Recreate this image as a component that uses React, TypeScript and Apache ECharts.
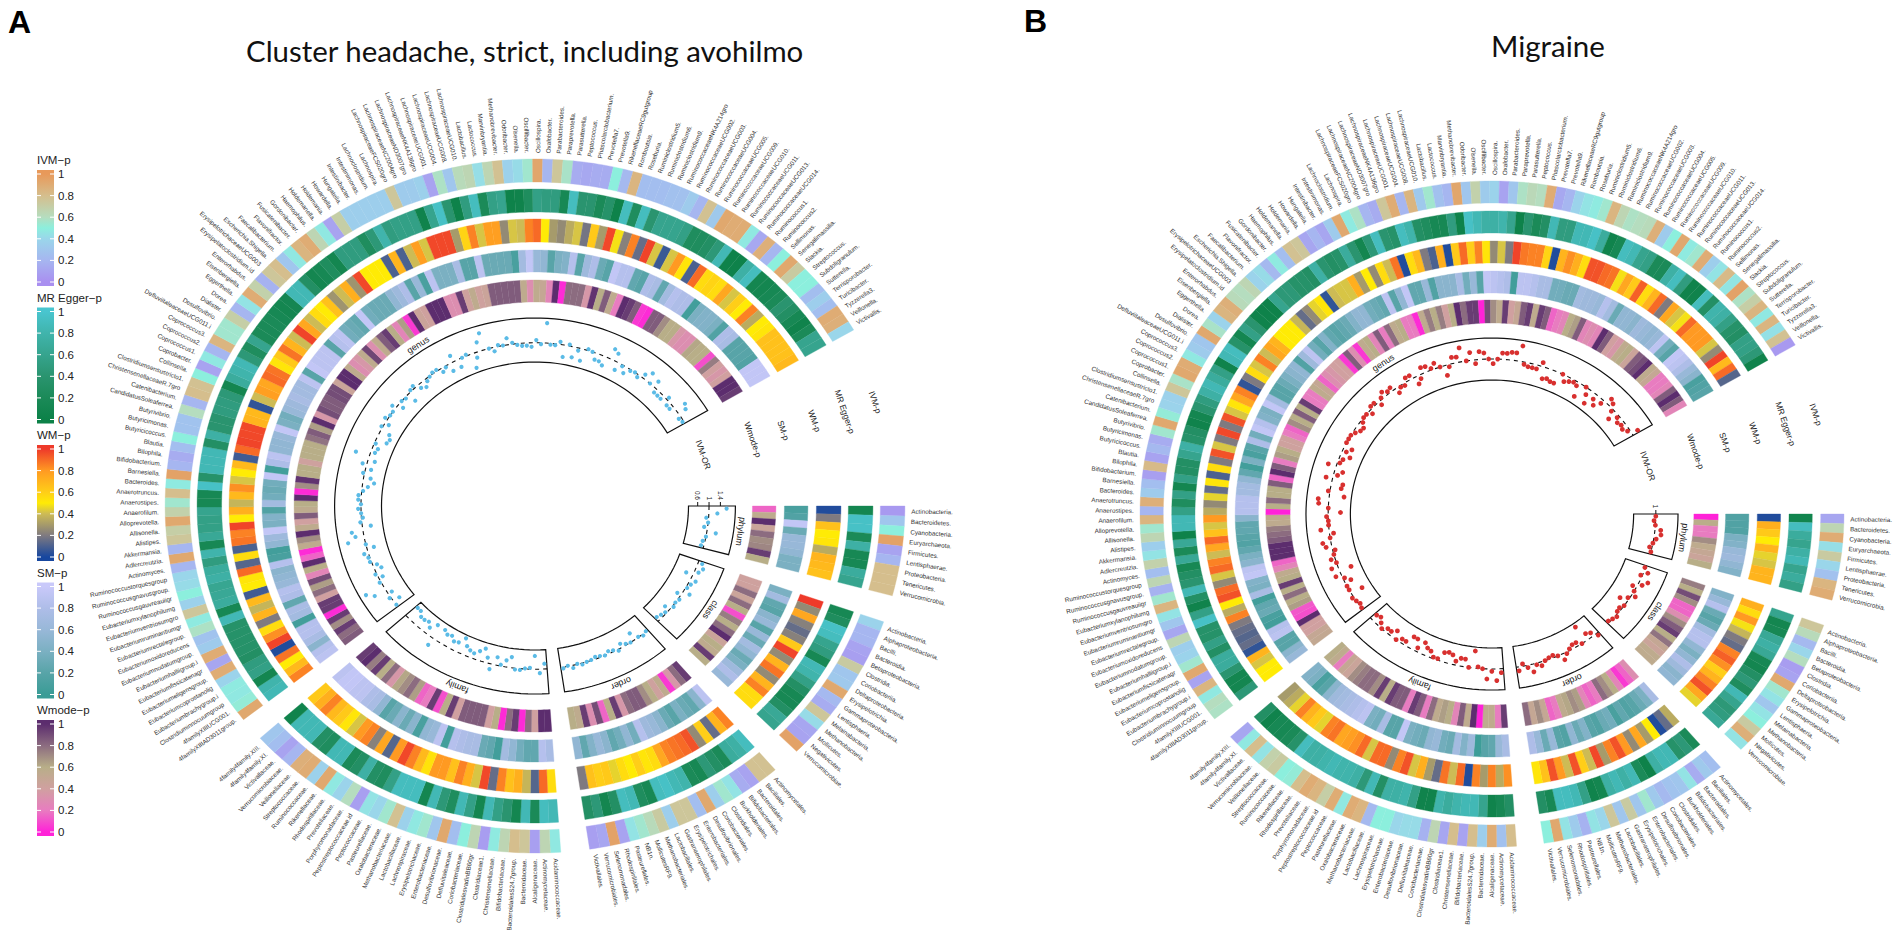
import React, { useEffect, useRef } from "react";
import * as echarts from "echarts";

// ---------- labels ----------
const phylumNames = ["Actinobacteria.","Bacteroidetes.","Cyanobacteria.","Euryarchaeota.","Firmicutes.","Lentisphaerae.","Proteobacteria.","Tenericutes.","Verrucomicrobia."];
const classNames = ["Actinobacteria.","Alphaproteobacteria.","Bacilli.","Bacteroidia.","Betaproteobacteria.","Clostridia.","Coriobacteriia.","Deltaproteobacteria.","Erysipelotrichia.","Gammaproteobacteria.","Lentisphaeria.","Melainabacteria.","Methanobacteria.","Mollicutes.","Negativicutes.","Verrucomicrobiae."];
const orderNames = ["Actinomycetales.","Bacillales.","Bacteroidales.","Bifidobacteriales.","Burkholderiales.","Clostridiales.","Coriobacteriales.","Desulfovibrionales.","Enterobacteriales.","Erysipelotrichales.","Gastranaerophilales.","Lactobacillales.","Methanobacteriales.","MollicutesRF9.","NB1n.","Pasteurellales.","Rhodospirillales.","Selenomonadales.","Verrucomicrobiales.","Victivallales."];
const familyNames = ["Acidaminococcaceae.","Actinomycetaceae.","Alcaligenaceae.","Bacteroidaceae.","BacteroidalesS24.7group.","Bifidobacteriaceae.","Christensenellaceae.","Clostridiaceae1.","ClostridialesvadinBB60gr","Coriobacteriaceae.","Defluviitaleaceae.","Desulfovibrionaceae.","Enterobacteriaceae.","Erysipelotrichaceae.","Lachnospiraceae.","Lactobacillaceae.","Methanobacteriaceae.","Oxalobacteraceae.","Pasteurellaceae.","Peptococcaceae.","Peptostreptococcaceae.id","Porphyromonadaceae.","Prevotellaceae.","Rhodospirillaceae.","Rikenellaceae.","Ruminococcaceae.","Streptococcaceae.","Veillonellaceae.","Verrucomicrobiaceae.","Victivallaceae.","4family4family.XI.","4family4family.XIII."];
const genusNames = ["4familyXIIIAD3011group.","4familyXIIIUCG001.","Clostridiuminnocuumgroup","Eubacteriumbrachygroup.i","Eubacteriumcoprostanolig","Eubacteriumeligensgroup.","Eubacteriumfissicatenagr","Eubacteriumhalliigroup.i","Eubacteriumnodatumgroup.","Eubacteriumoxidoreducens","Eubacteriumrectalegroup.","Eubacteriumruminantiumgr","Eubacteriumventriosumgro","Eubacteriumxylanophilumg","Ruminococcusgauvreauiigr","Ruminococcusgnavusgroup.","Ruminococcustorquesgroup","Actinomyces.","Adlercreutzia.","Akkermansia.","Alistipes.","Allisonella.","Alloprevotella.","Anaerofilum.","Anaerostipes.","Anaerotruncus.","Bacteroides.","Barnesiella.","Bifidobacterium.","Bilophila.","Blautia.","Butyricicoccus.","Butyricimonas.","Butyrivibrio.","CandidatusSoleaferrea.","Catenibacterium.","ChristensenellaceaeR.7gro","Clostridiumsensustricto1.","Collinsella.","Coprobacter.","Coprococcus1.","Coprococcus2.","Coprococcus3.","DefluviitaleaceaeUCG011.i","Desulfovibrio.","Dialister.","Dorea.","Eggerthella.","Eisenbergiella.","Enterorhabdus.","Erysipelatoclostridium.id","ErysipelotrichaceaeUCG003","Escherichia.Shigella.","Faecalibacterium.","Flavonifractor.","Fusicatenibacter.","Gordonibacter.","Haemophilus.","Holdemanella.","Holdemania.","Howardella.","Hungatella.","Intestinibacter.","Intestinimonas.","Lachnoclostridium.","Lachnospira.","LachnospiraceaeFCS020gro","LachnospiraceaeNC2004gro","LachnospiraceaeND3007gro","LachnospiraceaeNK4A136gro","LachnospiraceaeUCG001.","LachnospiraceaeUCG004.","LachnospiraceaeUCG008.","LachnospiraceaeUCG010.","Lactobacillus.","Lactococcus.","Marvinbryantia.","Methanobrevibacter.","Odoribacter.","Olsenella.","Oscillibacter.","Oscillospira.","Oxalobacter.","Parabacteroides.","Paraprevotella.","Parasutterella.","Peptococcus.","Phascolarctobacterium.","Prevotella7.","Prevotella9.","RikenellaceaeRC9gutgroup","Romboutsia.","Roseburia.","Ruminiclostridium5.","Ruminiclostridium6.","Ruminiclostridium9.","RuminococcaceaeNK4A214gro","RuminococcaceaeUCG002.","RuminococcaceaeUCG003.","RuminococcaceaeUCG004.","RuminococcaceaeUCG005.","RuminococcaceaeUCG009.","RuminococcaceaeUCG010.","RuminococcaceaeUCG011.","RuminococcaceaeUCG013.","RuminococcaceaeUCG014.","Ruminococcus1.","Ruminococcus2.","Sellimonas.","Senegalimassilia.","Slackia.","Streptococcus.","Subdoligranulum.","Sutterella.","Terrisporobacter.","Turicibacter.","Tyzzerella3.","Veillonella.","Victivallis."];
const sectorNames = ["phylum", "class", "order", "family", "genus"];
const trackNames = ["IVM-p", "MR Egger-p", "WM-p", "SM-p", "Wmode-p"];
const legendTicks = [0, 0.2, 0.4, 0.6, 0.8, 1];

// ---------- panel A: p-values ----------
const aIvmPhylum = [.05,.3,.5,.95,.1,.2,.8,.8,.8];
const aIvmClass = [.38,.2,.2,.1,.08,.72,.3,.32,.92,.22,.15,.75,.42,.12,.1,.95];
const aIvmOrder = [.78,.78,.1,.15,.45,.55,.35,.92,.25,.75,.75,.35,.72,.62,.55,.45,.1,.95,.12,.08];
const aIvmFamily = [.47,.65,.08,.75,.8,.65,.48,.07,.65,.5,.25,.92,.3,.55,.47,.37,.78,.55,.4,.45,.08,.6,.38,.47,.92,.37,.9,.88,.2,.1,.25,.3];
const aIvmGenus = [.92,.52,.47,.48,.38,.9,.12,.9,.33,.28,
.58,.48,.75,.37,.5,.42,.4,.2,.92,.2,
.75,.7,.92,.68,.55,.8,.48,.95,.2,.15,
.25,.5,.28,.28,.6,.2,.8,.78,.5,.1,
.47,.2,.85,.55,.55,.7,.2,.45,.9,.68,
.18,.75,.8,.3,.47,.85,.9,.65,.47,.1,
.7,.35,.35,.35,.35,.35,.75,.33,.33,.36,
.1,.58,.3,.62,.65,.43,.65,.78,.37,.42,
.55,.93,.2,.75,.57,.15,.13,.15,.15,.5,
.22,.85,.25,.25,.25,.27,.27,.33,.2,.78,
.32,.92,.9,.9,.47,.13,.88,.2,.5,.92,
.72,.5,.5,.25,.35,.25,.9,.88,.4];
const aMrPhylum = [.1,.95,.95,.2,.75,.15,.15,.7,.6];
const aMrClass = [.15,.25,.95,.9,.6,.5,.15,.85,.8,.55,.3,.15,.15,.3,.65,.6];
const aMrOrder = [.9,.75,.7,.2,.3,.45,.15,.2,.8,.85,.95,.9,.15,.25,.85,.9,.3,.1,.45,.3];
const aMrFamily = [.85,.9,.2,.85,.1,.4,.55,.85,.1,.55,.85,.25,.45,.85,.1,.9,.9,.9,.55,.25,.3,.75,.3,.2,.85,.85,.25,.3,.85,.85,.85,.05];
const aMrGenus = [.85,.8,.1,.55,.5,.3,.35,.35,.35,.35,
.85,.15,.7,.65,.62,.75,.7,.5,.8,.15,
.65,.55,.55,.6,.15,.15,.95,.35,.85,.85,
.85,.3,.75,.4,.4,.5,.5,.45,.1,.7,
.8,.85,.45,.25,.6,.2,.2,.2,.15,.1,
.12,.85,.85,.3,.1,.15,.25,.1,.5,.5,
.5,.25,.45,.8,.5,.55,.55,.55,.05,.6,
.95,.4,.02,.5,.9,.2,.55,.6,.02,.05,
.25,.55,.5,.5,.15,.9,.4,.4,.2,.35,
.02,.9,.25,.9,.4,.6,.6,.6,.55,.25,
.25,.3,.45,.85,.02,.02,.75,.9,.1,.1,
.15,.2,.4,.3,.15,.05,.2,.6,.6];
const aWmPhylum = [.02,.2,.65,.5,.52,.35,.7,.68,.65];
const aWmClass = [1,.25,.75,.22,.15,.22,.62,.98,.25,.7,.88,.25,.7,.85,.55,.55];
const aWmOrder = [.85,.7,.15,.6,.25,.95,.9,.88,.85,.75,.55,.52,.6,.5,.55,.45,.62,.6,.65,.2];
const aWmFamily = [.55,.9,.12,.38,.72,.65,.85,.15,.97,.42,.72,.85,.65,.8,.8,.53,.68,.85,.97,.8,.12,.75,.22,.85,.8,.42,.52,.62,.68,.85,.72,.62];
const aWmGenus = [.85,.68,.5,.88,.02,.98,.82,.55,.2,.7,
.38,.68,.08,.5,.52,.9,.12,.55,.1,.88,
.85,.98,.5,.72,.38,.68,.82,.42,.5,.68,
.08,.9,.98,.97,.97,.7,.68,.05,.4,.78,
.75,.9,.88,.52,.62,.88,.7,.4,.98,.75,
.4,.55,.5,.65,.28,.4,.72,.28,.97,.5,
.5,.5,.1,.7,.1,.4,.78,.42,.97,.97,
.97,.3,.58,.85,.42,.78,.78,.25,.42,.4,
.85,.9,.5,.3,.25,.35,.42,.18,.62,.3,
.97,.48,.22,.85,.15,.98,.42,.07,.42,.8,
.52,.1,.9,.55,.58,.55,.75,.42,.6,.5,
.85,.35,.5,.52,.65,.65,.65,.65,.68];
const aSmPhylum = [.1,.15,.95,.3,.6,.6,.55,.4,.4];
const aSmClass = [.4,.7,.25,.2,.5,.6,.2,.6,.3,.7,.55,.3,.4,.65,.8,.6];
const aSmOrder = [.9,.5,.25,.3,.4,.2,.3,.5,.6,.65,.85,.35,.55,.35,.25,.5,.6,.45,.25,.55];
const aSmFamily = [.75,.85,.25,.25,.35,.55,.7,.05,.25,.3,.75,.75,.8,.85,.05,.9,.6,.55,.1,.5,.3,.5,.3,.2,.55,.75,.8,.9,.9,.95,.95,.9];
const aSmGenus = [.9,.85,.5,.75,.85,.85,.05,.7,.75,.25,
.8,.85,.6,.55,.5,.85,.1,.05,.55,.65,
.95,.4,.45,.15,.7,.35,.3,.35,.95,.05,
.8,.9,.55,.55,.6,.95,.4,.35,.6,.65,
.75,.7,.7,.9,.2,.95,.9,.9,.9,.2,
.85,.9,.35,.3,.25,.95,.35,.3,.3,.3,
.55,.65,.8,.2,.6,.1,.9,.4,.4,.4,
.75,.2,.2,.9,.3,.3,.3,.3,.1,.7,
.95,.6,.55,.2,.4,.45,.85,.2,.65,.8,
.3,.2,.95,.85,.85,.25,.2,.8,.75,.25,
.7,.85,.8,.8,.05,.4,.45,.45,.4,.15,
.8,.75,.2,.2,.2,.15,.95,.95,.95];
const aWmodePhylum = [.15,.55,1,.45,.8,.7,.72,.95,.6];
const aWmodeClass = [.42,.42,.8,.45,.8,.6,.1,.75,.6,.8,1,.45,.6,.55,.95,.6];
const aWmodeOrder = [.95,.8,.35,.05,.55,.42,.6,.7,.85,.85,.8,.35,.95,.6,.15,.9,.3,.95,.55,.6];
const aWmodeFamily = [1,1,.4,.8,.02,.95,.8,.02,.6,.4,.85,.85,.85,.85,.4,.95,.6,.1,.95,.2,.15,.65,.8,.7,.62,.35,.8,.6,.95,.75,1,.95];
const aWmodeGenus = [.85,.8,.95,.7,.95,.02,.95,.95,.4,.8,
.65,.9,.25,.6,1,.15,.02,.55,.7,1,
.55,.4,.85,.55,.6,1,.02,.7,.98,.6,
.6,.42,.6,.6,.6,.78,.85,.65,1,.35,
.9,.85,.85,.9,.9,.45,1,1,.55,.3,
.35,.55,.92,.3,.55,.85,.95,.6,.25,.65,
.05,1,.45,.42,1,1,1,.3,.3,.95,
.42,.55,.42,.45,.85,.85,.85,.85,.85,.55,
.3,.55,.5,.25,1,.02,.8,.8,.8,.35,
.98,.6,.85,.55,.2,1,.95,.85,.05,.02,
.85,.85,.7,.6,.6,.35,.3,.3,.62,.6,
.6,.1,.75,.4,.35,.4,1,1,.95];

// ---------- panel A: IVM odds ratios ----------
const aOrPhylum = [1.62,1.3,.92,1,.88,1.32,1,.92,.9];
const aOrClass = [1.15,1.25,1.15,.75,1.2,1.1,1.05,1.25,.85,1.05,1,1.05,.8,.95,.9,.85];
const aOrOrder = [.98,1.05,.98,.7,1,.95,.85,1.05,.95,.9,1,.95,.92,.98,1,1.05,.98,1.1,.98,1.05];
const aOrFamily = [.8,1.15,.5,.95,.98,1.05,1.05,.6,.75,.95,.7,1.2,.8,.5,.65,.8,.75,.65,.4,.65,.7,.55,.6,.5,1.3,.5,.75,.6,.65,.65,.5,.5];
const aOrGenus = [1,.75,1.05,.85,1.45,1.7,1.05,.85,1.05,.75,
.85,1.05,1.05,1.15,.75,1,1.6,1.3,1.4,.7,
1.05,.95,1,1.1,1,1.1,1.1,.95,.8,.6,
.75,1.05,.8,1.15,.75,1.5,.85,.8,.95,.6,
.55,.65,1.05,.85,1.1,1,1,1.15,.8,1,
.95,.65,1.05,1.1,.85,.75,.9,.98,1.05,1.05,
.85,.95,.7,1.25,.7,1,1.05,.45,.8,1.35,
1.65,1,.85,1.05,1,1.25,1.05,.95,.9,.9,
.85,1.1,.95,1.75,.95,.95,1.1,.55,1.05,.6,
.9,.55,1.05,1,.75,.75,.65,1.4,1.3,.7,
.95,.75,.95,1,.9,1.15,1.35,1,1.25,.85,
.85,.85,1.1,.85,.85,1.4,1.3,.9,.95];

// ---------- panel B: p-values ----------
const bIvmPhylum = [.12,.65,.9,.43,.72,.4,.27,.85,.9];
const bIvmClass = [.75,.62,.22,.4,.6,.07,.1,.92,.55,.45,.3,.45,.5,.72,.88,.45];
const bIvmOrder = [.25,.32,.15,.45,.3,.28,.22,.32,.55,.3,.72,.3,.75,.4,.45,.18,.33,.45,.92,.5];
const bIvmFamily = [.8,.27,.9,.35,.8,.1,.8,.12,.65,.18,.42,.42,.4,.5,.5,.22,.85,.9,.47,.9,.7,.85,.9,.8,.52,.5,.72,.68,.45,.8,.47,.12];
const bIvmGenus = [.58,.6,.47,.85,.1,.92,.55,.38,.35,.65,
.12,.3,.45,.85,.55,.18,.65,.25,.68,.45,
.35,.65,.55,.85,.2,.88,.33,.25,.08,.82,
.1,.22,.15,.55,.92,.52,.38,.37,.75,.57,
.92,.9,.47,.33,.3,.92,.57,.38,.85,.88,
.62,.6,.65,.38,.42,.22,.48,.25,.78,.75,
.12,.2,.12,.33,.92,.48,.58,.2,.15,.75,
.9,.2,.85,.32,.55,.27,.2,.93,.3,.68,
.33,.38,.1,.3,.58,.63,.6,.9,.13,.2,
.38,.45,.48,.55,.85,.65,.58,.6,.62,.88,
.33,.5,.92,.48,.55,.9,.35,.45,.82,.46,
.95,.58,.7,.85,.47,.85,.44,.78,.05];
const bMrPhylum = [.08,.9,.7,.6,.75,.85,.6,.7,.55];
const bMrClass = [.6,.1,.15,.65,.75,.65,.15,.1,.3,.45,.25,.85,.6,.45,.5,.65];
const bMrOrder = [.2,.45,.35,.85,.85,.75,.02,.2,.85,.75,.85,.75,.1,.05,.55,.85,.9,.9,.15,.3];
const bMrFamily = [.3,.15,.05,.6,.85,.85,.8,.7,.8,.05,.05,.55,.8,.75,.75,.3,.85,.45,.75,.8,.8,.85,.8,.75,.75,.9,.35,.2,.15,.15,.05,.3];
const bMrGenus = [.45,.1,.1,.4,.7,.7,.3,.55,.35,.35,
.95,.55,.05,.3,.85,.4,.3,.15,.65,.2,
.65,.02,.85,.85,.55,.25,.55,.1,.55,.3,
.3,.6,.75,.35,.3,.05,.1,.4,.5,.75,
.85,.7,.55,.05,.85,.9,.35,.1,.55,.4,
.05,.02,.02,.6,.45,.45,.35,.35,.3,.75,
.4,.3,.35,.7,.4,.1,.45,.9,.4,.35,
.9,.8,.3,.25,.15,.15,.5,.02,.95,.85,
.75,.75,.8,.6,.02,.4,.2,.3,.85,.5,
.5,.85,.85,.95,.7,.05,.15,.9,.85,.6,
.55,.2,.2,.75,.9,.5,.05,.05,.9,.3,
.8,.75,.55,.35,.3,.55,.55,.45,.05];
const bWmPhylum = [.02,.72,.62,.5,.7,.45,.42,.7,.7];
const bWmClass = [.72,.55,.8,.48,.38,.2,.15,.85,.92,.82,.6,.7,.85,.95,.75,.45];
const bWmOrder = [.35,.15,.02,.5,.3,.75,.25,.8,.95,.85,.3,.97,.4,.6,.95,.4,.8,.95,.65,.52];
const bWmFamily = [.82,.35,.85,.3,.85,.02,.9,.4,.88,.15,.3,.72,.42,.95,.85,.25,.9,.9,.42,.9,.82,.78,.75,.88,.85,.45,.62,.7,.85,.45,.35,.3];
const bWmGenus = [.5,.5,.42,.7,.05,.15,.12,.15,.2,.85,
.35,.5,.95,.9,.25,.42,.9,.85,.4,.75,
.9,.65,.42,.8,.35,.25,.45,.15,.52,.1,
.55,.2,.95,.42,.2,.97,.2,.95,.42,.52,
.75,.85,.05,.2,.55,.42,.85,.4,.75,.7,
.5,.5,.5,.38,.15,.25,.45,.52,.05,.4,
.42,.42,.72,.3,.5,.25,.55,.4,.88,.02,
.55,.68,.2,.1,.72,.02,.62,.9,.6,.85,
.52,.25,.42,.2,.98,.87,.85,.85,.58,.02,
.7,.82,.72,.55,.95,.95,.9,.88,.48,.75,
.62,.92,.55,.7,.9,.2,.75,.42,.48,.9,
.8,.8,.8,.42,.25,.98,.68,.9,.12];
const bSmPhylum = [.15,.15,.15,.4,.45,.6,.65,.55,.45];
const bSmClass = [.45,.6,.85,.3,.2,.3,.7,.85,.85,.55,.4,.55,.8,.65,.5,.55];
const bSmOrder = [.75,.4,.3,.2,.15,.25,.1,.35,.3,.15,.2,.45,.3,.55,.15,.2,.6,.3,.6,.8];
const bSmFamily = [.75,.6,.25,.2,.02,.65,.45,.7,.3,.35,.6,.55,.3,.35,.4,.95,.2,.2,.75,.35,.4,.9,.85,.8,.75,.7,.65,.5,.2,.1,.4,.45];
const bSmGenus = [.6,.5,.2,.2,.9,.85,.05,.1,.3,.25,
.05,.75,.4,.45,.95,.9,.5,.4,.25,.15,
.2,.25,.25,.5,.85,.85,.85,.7,.7,.55,
.25,.05,.4,.1,.2,.8,.35,.95,.85,.45,
.4,.95,.7,.2,.2,.3,.4,.5,.55,.15,
.65,.9,.35,.2,.45,.25,.2,.25,.3,.45,
.55,.55,.35,.3,.25,.9,.2,.55,.95,.25,
.25,.6,.15,.5,.5,.5,.75,.35,.6,.2,
.95,.9,.85,.8,.05,.9,.9,.85,.75,.75,
.35,.35,.3,.3,.7,.65,.65,.6,.85,.7,
.3,.55,.55,.5,.65,.6,.55,.6,.9,.35,
.2,.95,.9,.8,.6,.5,.1,.15,.2];
const bWmodePhylum = [0,.58,.2,.2,.7,.55,.5,.45,.6];
const bWmodeClass = [.75,.6,.9,.7,.15,.15,.3,.7,.85,.95,.6,.78,.5,.45,.55,.55];
const bWmodeOrder = [.3,.15,.05,.25,.6,.7,.8,.2,.15,.25,.65,.7,.62,.55,.2,.15,.5,.7,.5,.8];
const bWmodeFamily = [.95,.2,.55,.55,0,1,.55,.85,.25,.6,.65,.55,.8,.2,.85,.95,.2,.85,.85,.95,.6,.95,.7,.8,.8,.75,.7,.45,.5,.2,.55,.6];
const bWmodeGenus = [.52,.5,.4,.4,1,.1,.12,.65,.6,.8,
.6,.95,.6,.55,.25,.15,1,1,1,.85,
.8,.75,.55,.55,0,.6,.8,.6,.6,.85,
.15,1,.85,.2,.65,.6,.42,.42,.2,.15,
.7,.6,.85,.6,.95,.2,.2,.55,.5,.15,
.3,.35,.4,.4,.05,.85,.3,.05,.55,.6,
.25,.85,.2,.8,.55,.6,.2,.2,.02,.55,
.75,.6,.75,.4,.6,1,.8,.95,.95,0,
.9,.7,.55,.95,.4,.5,.85,.95,.55,.95,
.85,.15,.2,.25,.6,.65,.85,.25,.3,.25,
1,.85,.4,.35,.55,.6,.45,.85,.9,1,
.55,.5,.2,.2,.25,.85,1,.85,.25];

// ---------- panel B: IVM odds ratios ----------
const bOrPhylum = [1,.98,1,1.07,1.08,1.03,1,.97,1];
const bOrClass = [.99,1.05,.98,1.1,1.05,.95,1,1.05,.98,.9,1,.97,.98,1.02,1,.98];
const bOrOrder = [1.03,.95,.92,.78,1,.95,.95,.98,1.02,1.08,1,.97,.98,1,1.05,1.02,1.1,1.03,.97,1.05];
const bOrFamily = [1.05,1.15,1.03,1.13,1,.98,.78,1,.9,.9,.95,.88,.86,.88,.98,.98,.92,.9,.85,.95,.85,.85,.95,.95,1,.9,.95,.95,1,.95,.9,.92];
const bOrGenus = [1,.98,1,1.02,.85,1,1,.92,.98,1.07,
.85,1.08,1,1.05,1,.97,1.07,1.1,1,.95,
1.1,1,1,1.02,.85,1,1.12,1.13,.82,1.02,
.87,.86,1.08,.95,.9,1.1,.97,.95,.88,.95,
.9,1,1,1,.97,.93,.92,.97,1,1,
.95,1.03,1.03,.95,1.02,1.07,1.03,1.05,.93,.98,
.97,1.05,1.05,.9,.95,1.08,1.07,1.02,1.07,1,
.87,.97,1.08,1.07,1.18,1,1.1,.95,1.1,1.08,
1,.94,1,1.08,1.08,1.1,1.1,1.2,.97,.95,
.95,.95,1.05,.85,.87,.85,.85,1,.92,.95,
.97,.95,.82,1,.92,.82,.93,.87,.95,1.08,
1.05,.97,.88,.97,.93,.95,.93,.97,1.08];

// ---------- colour scales (low to high) ----------
const ivmColors: [number, string][] = [[0,"#A98FF0"],[.2,"#A6B6F0"],[.4,"#9AD6EA"],[.5,"#8CEFDD"],[.6,"#B5DDBF"],[.8,"#D5BE8D"],[1,"#E8995A"]];
const mrColors: [number, string][] = [[0,"#0C8148"],[.2,"#1B8A58"],[.4,"#2A946F"],[.6,"#36A48E"],[.8,"#40B4AC"],[1,"#49C5CF"]];
const wmColors: [number, string][] = [[0,"#17479F"],[.2,"#7F7A80"],[.4,"#CDBB55"],[.5,"#FFEB05"],[.6,"#FFCE18"],[.8,"#FF9A22"],[1,"#EE3A2A"]];
const smColors: [number, string][] = [[0,"#3A9C96"],[.2,"#58A4A8"],[.4,"#7BB0C2"],[.6,"#98B8D8"],[.8,"#AEBDE8"],[1,"#C9C9FA"]];
const wmodeColors: [number, string][] = [[0,"#FF22D8"],[.2,"#E87CC0"],[.4,"#D0A0A0"],[.6,"#B8AE88"],[.8,"#8C6C80"],[1,"#5C2D6E"]];
const scales = [ivmColors, mrColors, wmColors, smColors, wmodeColors];

const colorAt = (s: [number, string][], v: number) => {
  for (let i = 1; i < s.length; i++) {
    if (v <= s[i][0]) return echarts.color.lerp((v - s[i - 1][0]) / (s[i][0] - s[i - 1][0]), [s[i - 1][1], s[i][1]]);
  }
  return s[s.length - 1][1];
};

// ---------- layout ----------
const sectorSpans = [[0, 15], [19.5, 45], [49.5, 81.5], [86, 138], [142, 329.5]];
const sectorLabels = [phylumNames, classNames, orderNames, familyNames, genusNames];
const FONT = "'Liberation Sans', Arial, sans-serif";

const panelA = {
  cx: 535, cy: 506, k: 1.066,
  rings: [[324, 347], [294, 317], [264, 287], [234, 256], [204, 226]],
  box: [144, 188], orRange: [0.276, 1.93], orTicks: [0.6, 1, 1.4],
  dot: "#5BBBE6", dotR: 2.1, ringPolar: 0, orPolar: 1,
  values: [
    [aIvmPhylum, aIvmClass, aIvmOrder, aIvmFamily, aIvmGenus],
    [aMrPhylum, aMrClass, aMrOrder, aMrFamily, aMrGenus],
    [aWmPhylum, aWmClass, aWmOrder, aWmFamily, aWmGenus],
    [aSmPhylum, aSmClass, aSmOrder, aSmFamily, aSmGenus],
    [aWmodePhylum, aWmodeClass, aWmodeOrder, aWmodeFamily, aWmodeGenus],
  ],
  or: [aOrPhylum, aOrClass, aOrOrder, aOrFamily, aOrGenus],
};
const panelB = {
  cx: 1492, cy: 514, k: 1.057,
  rings: [[311, 333], [281, 303], [251, 273], [221, 243], [191, 214]],
  box: [134, 176], orRange: [0.73, 1.27], orTicks: [1],
  dot: "#D8302F", dotR: 2.4, ringPolar: 2, orPolar: 3,
  values: [
    [bIvmPhylum, bIvmClass, bIvmOrder, bIvmFamily, bIvmGenus],
    [bMrPhylum, bMrClass, bMrOrder, bMrFamily, bMrGenus],
    [bWmPhylum, bWmClass, bWmOrder, bWmFamily, bWmGenus],
    [bSmPhylum, bSmClass, bSmOrder, bSmFamily, bSmGenus],
    [bWmodePhylum, bWmodeClass, bWmodeOrder, bWmodeFamily, bWmodeGenus],
  ],
  or: [bOrPhylum, bOrClass, bOrOrder, bOrFamily, bOrGenus],
};
type Panel = typeof panelA;

const stretch = (p: Panel, pt: number[]) => [p.cx + (pt[0] - p.cx) * p.k, pt[1]];
const rad = (d: number) => (d * Math.PI) / 180;
const radialDeg = (p: Panel, a: number) => (Math.atan2(Math.sin(rad(a)), p.k * Math.cos(rad(a))) * 180) / Math.PI;
const tangentDeg = (p: Panel, a: number) => (Math.atan2(Math.cos(rad(a)), -p.k * Math.sin(rad(a))) * 180) / Math.PI;

function cellSeries(p: Panel, ringIdx: number) {
  const [rIn, rOut] = p.rings[ringIdx];
  const data: number[][] = [];
  p.values[ringIdx].forEach((vals, si) => {
    const [a0, a1] = sectorSpans[si];
    const step = (a1 - a0) / vals.length;
    vals.forEach((v, i) => data.push([rOut, a0 + i * step, a0 + (i + 1) * step, v]));
  });
  return {
    type: "custom", coordinateSystem: "polar", polarIndex: p.ringPolar, silent: true,
    encode: { radius: 0, angle: 1 }, data,
    renderItem: (_: any, api: any) => {
      const s = api.value(1), e = api.value(2);
      const pts: number[][] = [];
      for (let j = 0; j <= 2; j++) pts.push(stretch(p, api.coord([rOut, s + ((e - s) * j) / 2])));
      for (let j = 2; j >= 0; j--) pts.push(stretch(p, api.coord([rIn, s + ((e - s) * j) / 2])));
      const c = colorAt(scales[ringIdx], api.value(3));
      return { type: "polygon", shape: { points: pts }, style: { fill: c, stroke: c, lineWidth: 0.35 } };
    },
  };
}

function boxSeries(p: Panel) {
  const [lo, hi] = p.orRange;
  return {
    type: "custom", coordinateSystem: "polar", polarIndex: p.orPolar, silent: true,
    encode: { radius: 0, angle: 1 }, data: sectorSpans.map(([a, b]) => [1, a, b]),
    renderItem: (params: any, api: any) => {
      const a = api.value(1), b = api.value(2);
      const n = Math.max(4, Math.round((b - a) / 2));
      const outer: number[][] = [], inner: number[][] = [], mid: number[][] = [];
      for (let j = 0; j <= n; j++) {
        const t = a + ((b - a) * j) / n;
        outer.push(stretch(p, api.coord([hi, t])));
        mid.push(stretch(p, api.coord([1, t])));
      }
      for (let j = n; j >= 0; j--) inner.push(stretch(p, api.coord([lo, a + ((b - a) * j) / n])));
      const pos = stretch(p, api.coord([hi, (a + b) / 2]));
      const m = (a + b) / 2;
      const rot = tangentDeg(p, m);
      const off = 7;
      const lx = pos[0] + off * Math.cos(rad(radialDeg(p, m)));
      const ly = pos[1] + off * Math.sin(rad(radialDeg(p, m)));
      const children: any[] = [
        { type: "polygon", shape: { points: outer.concat(inner) }, style: { fill: "none", stroke: "#111", lineWidth: 1.2 } },
        { type: "polyline", shape: { points: mid }, style: { fill: "none", stroke: "#111", lineWidth: 1.1, lineDash: [4, 4] } },
        { type: "text", x: lx, y: ly, rotation: -rad(rot), style: { text: sectorNames[params.dataIndex], fontFamily: FONT, fontSize: 9, fill: "#222", align: "center", verticalAlign: "middle" } },
      ];
      if (params.dataIndex === 0) {
        p.orTicks.forEach((t) => {
          const q = stretch(p, api.coord([t, 0]));
          children.push({ type: "line", shape: { x1: q[0], y1: q[1], x2: q[0], y2: q[1] - 4 }, style: { stroke: "#111", lineWidth: 1 } });
          children.push({ type: "text", x: q[0], y: q[1] - 6, rotation: -Math.PI / 2, style: { text: String(t), fontFamily: FONT, fontSize: 6.5, fill: "#222", align: "right", verticalAlign: "middle" } });
        });
      }
      return { type: "group", children };
    },
  };
}

function dotSeries(p: Panel) {
  const data: number[][] = [];
  p.or.forEach((vals, si) => {
    const [a0, a1] = sectorSpans[si];
    const step = (a1 - a0) / vals.length;
    vals.forEach((v, i) => data.push([v, a0 + (i + 0.5) * step]));
  });
  return {
    type: "custom", coordinateSystem: "polar", polarIndex: p.orPolar, silent: true,
    encode: { radius: 0, angle: 1 }, data,
    renderItem: (_: any, api: any) => {
      const q = stretch(p, api.coord([api.value(0), api.value(1)]));
      return { type: "circle", shape: { cx: q[0], cy: q[1], r: p.dotR }, style: { fill: p.dot } };
    },
  };
}

function nameSeries(p: Panel) {
  const rLab = p.rings[0][1] + 6;
  const names: string[] = [];
  const data: number[][] = [];
  sectorLabels.forEach((labels, si) => {
    const [a0, a1] = sectorSpans[si];
    const step = (a1 - a0) / labels.length;
    labels.forEach((n, i) => { names.push(n); data.push([rLab, a0 + (i + 0.5) * step]); });
  });
  return {
    type: "custom", coordinateSystem: "polar", polarIndex: p.ringPolar, silent: true,
    encode: { radius: 0, angle: 1 }, data,
    renderItem: (params: any, api: any) => {
      const a = api.value(1);
      const q = stretch(p, api.coord([rLab, a]));
      const right = a < 90 || a > 270;
      const deg = radialDeg(p, a) + (right ? 0 : 180);
      return {
        type: "text", x: q[0], y: q[1], rotation: -rad(deg),
        style: { text: names[params.dataIndex], fontFamily: FONT, fontSize: 6.3, fill: "#333", align: right ? "left" : "right", verticalAlign: "middle" },
      };
    },
  };
}

function trackLabelSeries(p: Panel) {
  const items = [...p.rings.map((r) => (r[0] + r[1]) / 2), (p.box[0] + p.box[1]) / 2];
  const texts = [...trackNames, "IVM-OR"];
  return {
    type: "custom", coordinateSystem: "polar", polarIndex: p.ringPolar, silent: true,
    encode: { radius: 0, angle: 1 }, data: items.map((r) => [r, 342]),
    renderItem: (params: any, api: any) => {
      const q = stretch(p, api.coord([api.value(0), api.value(1)]));
      return {
        type: "text", x: q[0], y: q[1], rotation: -rad(tangentDeg(p, 342)),
        style: { text: texts[params.dataIndex], fontFamily: FONT, fontSize: 8.5, fill: "#222", align: "center", verticalAlign: "middle" },
      };
    },
  };
}

function polarParts(p: Panel) {
  return {
    polar: [
      { center: [p.cx, p.cy], radius: [0, 400] },
      { center: [p.cx, p.cy], radius: [p.box[0], p.box[1]] },
    ],
    radius: [
      { polarIndex: p.ringPolar, type: "value", min: 0, max: 400, show: false },
      { polarIndex: p.orPolar, type: "value", min: p.orRange[0], max: p.orRange[1], show: false },
    ],
    angle: [
      { polarIndex: p.ringPolar, type: "value", min: 0, max: 360, startAngle: 0, clockwise: true, show: false },
      { polarIndex: p.orPolar, type: "value", min: 0, max: 360, startAngle: 0, clockwise: true, show: false },
    ],
  };
}

function legendGraphics() {
  const out: any[] = [];
  const x = 37, w = 17, h = 116, first = 170, gap = 137.5, inset = 4;
  trackNames.forEach((name, i) => {
    const top = first + i * gap;
    const span = h - 2 * inset;
    const stops = scales[i].map(([v, c]) => ({ offset: (inset + (1 - v) * span) / h, color: c })).reverse();
    out.push({ type: "text", x, y: top - 4, style: { text: name.replace("-", "−"), fontFamily: FONT, fontSize: 11.5, fill: "#222", align: "left", verticalAlign: "bottom" } });
    out.push({ type: "rect", shape: { x, y: top, width: w, height: h }, style: { fill: new echarts.graphic.LinearGradient(0, 0, 0, 1, stops) } });
    legendTicks.forEach((t) => {
      const y = top + inset + (1 - t) * span;
      out.push({ type: "line", shape: { x1: x, y1: y, x2: x + 4, y2: y }, style: { stroke: "#fff", lineWidth: 1 } });
      out.push({ type: "line", shape: { x1: x + w - 4, y1: y, x2: x + w, y2: y }, style: { stroke: "#fff", lineWidth: 1 } });
      out.push({ type: "text", x: x + 21, y, style: { text: String(t), fontFamily: FONT, fontSize: 11.5, fill: "#222", align: "left", verticalAlign: "middle" } });
    });
  });
  return out;
}

function buildOption() {
  const a = polarParts(panelA), b = polarParts(panelB);
  const panels = [panelA, panelB];
  return {
    animation: false,
    backgroundColor: "#fff",
    title: [
      { text: "A", left: 3, top: 1, textStyle: { fontFamily: FONT, fontSize: 32, fontWeight: "bold", color: "#000" } },
      { text: "B", left: 1019, top: 0, textStyle: { fontFamily: FONT, fontSize: 32, fontWeight: "bold", color: "#000" } },
      { text: "Cluster headache, strict, including avohilmo", left: 241, top: 31, textStyle: { fontFamily: "Lato", fontSize: 29.4, fontWeight: "normal", color: "#111" } },
      { text: "Migraine", left: 1486, top: 25, textStyle: { fontFamily: "Lato", fontSize: 29.5, fontWeight: "normal", color: "#111" } },
    ],
    polar: [...a.polar, ...b.polar],
    radiusAxis: [...a.radius, ...b.radius],
    angleAxis: [...a.angle, ...b.angle],
    graphic: legendGraphics(),
    series: panels.flatMap((p) => [
      ...p.rings.map((_, i) => cellSeries(p, i)),
      boxSeries(p), dotSeries(p), nameSeries(p), trackLabelSeries(p),
    ]),
  };
}

export default function App() {
  const ref = useRef<HTMLDivElement>(null);
  useEffect(() => {
    document.body.style.margin = "0";
    document.body.style.overflow = "hidden";
    const chart = echarts.init(ref.current!, undefined, { renderer: "svg" });
    chart.setOption(buildOption() as any);
    return () => chart.dispose();
  }, []);
  return <div ref={ref} style={{ position: "absolute", left: 0, top: 0, width: 1902, height: 930 }} />;
}
